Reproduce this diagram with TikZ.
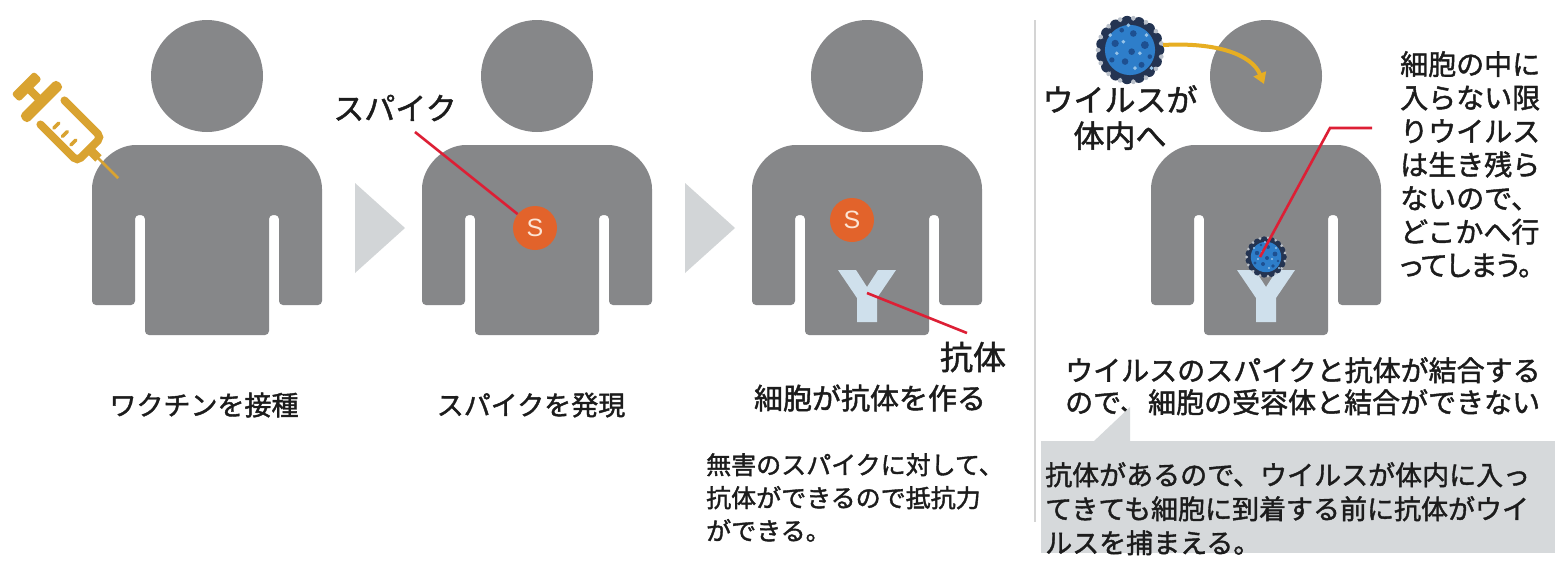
\documentclass[tikz,border=0pt]{standalone}
\usepackage{fontspec}
\newfontfamily\jp[RawFeature={embolden=1.5}]{Noto Sans CJK JP}
\newfontfamily\jpp[RawFeature={embolden=1.5;+palt}]{Noto Sans CJK JP}
\newfontfamily\lsans{Liberation Sans}
\usetikzlibrary{arrows.meta,calc}

\definecolor{figgray}{RGB}{134,135,137}
\definecolor{stepgray}{RGB}{210,213,215}
\definecolor{syr}{RGB}{217,163,49}
\definecolor{sorange}{RGB}{226,99,43}
\definecolor{speach}{RGB}{252,228,212}
\definecolor{ablue}{RGB}{207,224,236}
\definecolor{leader}{RGB}{221,31,53}
\definecolor{ink}{RGB}{28,28,28}
\definecolor{boxgray}{RGB}{214,217,219}
\definecolor{sepgray}{RGB}{212,212,212}
\definecolor{arrowgold}{RGB}{231,174,34}
\definecolor{vblue}{RGB}{46,126,202}
\definecolor{vmid}{RGB}{30,80,145}
\definecolor{vdark}{RGB}{36,52,82}
\definecolor{vlight}{RGB}{150,195,232}
\definecolor{vspeck}{RGB}{185,192,202}

\newcommand\jpsz[2]{\fontsize{#1}{#2}\selectfont}

% silhouette: head and body centred on x = #1
\newcommand\person[1]{%
  \fill[figgray] (#1,76) circle (56);
  \fill[figgray, rounded corners=4pt]
    (#1-62,335) -- (#1-62,215) -- (#1-72,215) -- (#1-72,305) -- (#1-115,305)
    -- (#1-115,193) .. controls (#1-115,166.5) and (#1-93.5,145) .. (#1-67,145)
    -- (#1+67,145) .. controls (#1+93.5,145) and (#1+115,166.5) .. (#1+115,193)
    -- (#1+115,305) -- (#1+72,305) -- (#1+72,215) -- (#1+62,215) -- (#1+62,335) -- cycle;
}

% Y-shaped antibody, centred on x = #1, top edge at y = #2
\newcommand\antibody[2]{%
  \fill[ablue] (#1-29,#2) -- (#1-11,#2) -- (#1,#2+17) -- (#1+11,#2) -- (#1+29,#2)
    -- (#1+10,#2+28) -- (#1+10,#2+52) -- (#1-10,#2+52) -- (#1-10,#2+28) -- cycle;
}

% spiky virus particle: centre (#1,#2), radius #3
\newcommand\virus[3]{%
  \begin{scope}[shift={(#1,#2)}, scale=#3]
    \foreach \a in {0,24,...,336} \fill[vdark] (\a:0.86) circle (0.18);
    \foreach \a in {12,36,...,348} \fill[vspeck] (\a:0.97) circle (0.07);
    \fill[vdark] (0,0) circle (0.88);
    \fill[vblue] (0,0) circle (0.76);
    \foreach \x/\y/\r in {-0.45/-0.2/0.11, 0.1/-0.5/0.1, 0.45/-0.15/0.12, -0.15/0.35/0.1,
                          0.35/0.45/0.09, -0.55/0.3/0.08, 0.05/0.05/0.1, 0.6/0.2/0.07,
                          -0.25/-0.6/0.07}
      \fill[vmid] (\x,\y) circle (\r);
    \foreach \x/\y in {-0.2/-0.25, 0.3/0.1, -0.4/0.1, 0.15/0.55, 0.5/-0.45, -0.05/-0.75,
                       -0.6/-0.45, 0.65/0.55}
      \fill[vlight] (\x,\y) circle (0.06);
  \end{scope}
}

\begin{document}
\begin{tikzpicture}[x=1pt,y=-1pt,
  txt/.style={inner sep=0pt, text=ink},
  leaderline/.style={draw=leader, line width=2.6pt},
  sbadge/.style={circle, fill=sorange, minimum size=44pt, inner sep=0pt,
                 text=speach, font=\lsans\jpsz{25}{25}},
  chevron/.style={fill=stepgray},
]
\useasboundingbox (0,0) rectangle (1555,563);
\fill[white] (0,0) rectangle (1555,563);

% four silhouettes
\person{207}
\person{537}
\person{867}
\person{1266}

% step chevrons
\fill[chevron] (355,183) -- (405,228) -- (355,273) -- cycle;
\fill[chevron] (685,183) -- (735,228) -- (685,273) -- cycle;

% syringe
\begin{scope}[shift={(27,87)}, rotate=-45]
  \fill[syr, rounded corners=3pt] (-6,-16) rectangle (5,16);
  \fill[syr] (4,-4) rectangle (18,4);
  \fill[syr, rounded corners=4pt] (15,-26) rectangle (26,26);
  \draw[syr, line width=8pt, rounded corners=5pt, line cap=round]
    (36,-17) -- (88,-17) -- (88,17) -- (36,17);
  \foreach \u in {48,60,72} \draw[syr, line width=3.5pt, line cap=round] (\u,3) -- (\u,10);
  \fill[syr] (88,-4.5) rectangle (101,4.5);
  \draw[syr, line width=2.8pt] (100,0) -- (129,0);
\end{scope}

% panel 2: spike
\node[sbadge] (s2) at (535,228) {S};
\node[txt, font=\jp\jpsz{31}{31}] (spk) at (395,108) {スパイク};
\coordinate (spkfoot) at (415,132);
\draw[leaderline] (spkfoot) -- (s2);

% panel 3: spike and antibody
\node[sbadge] (s3) at (852,220) {S};
\antibody{867}{270}
\coordinate (ab3) at (867,293);
\node[txt, font=\jp\jpsz{33}{33}] (kotai) at (973,357) {抗体};
\coordinate (kotaifoot) at (967,333);
\draw[leaderline] (ab3) -- (kotaifoot);

% captions
\node[txt, font=\jp\jpsz{27}{27}] (cap1) at (204,405) {ワクチンを接種};
\node[txt, font=\jp\jpsz{27}{27}] (cap2) at (531,405) {スパイクを発現};
\node[txt, font=\jp\jpsz{29}{29}] (cap3) at (870,398) {細胞が抗体を作る};
\node[txt, font=\jp\jpsz{25}{33}, anchor=north west, align=left] (note3) at (706,453)
  {無害のスパイクに対して、\\抗体ができるので抵抗力\\ができる。};

% divider
\draw[sepgray, line width=1.6pt] (1035,20) -- (1035,522);

% panel 4: virus entering
\virus{1130}{50}{33}
\coordinate (vstart) at (1163,45);
\coordinate (vend) at (1264,84);
\draw[arrowgold, line width=4pt, -{Triangle[length=11pt,width=13pt]}]
  (vstart) .. controls (1218,42) and (1252,55) .. (vend);
\node[txt, font=\jp\jpsz{31}{36}, anchor=north, align=center] (vlab) at (1120,85)
  {ウイルスが\\体内へ};

\antibody{1266}{270}
\virus{1266}{257}{20}
\coordinate (v4) at (1260,257);
\coordinate (bend) at (1330,128);
\coordinate (rfoot) at (1372,128);
\draw[leaderline] (v4) -- (bend) -- (rfoot);

\node[txt, font=\jp\jpsz{28}{33.5}, anchor=north west, align=left] (rnote) at (1400,51)
  {細胞の中に\\入らない限\\りウイルス\\は生き残ら\\ないので、\\どこかへ行\\{\jpp ってしまう。}};

\node[txt, font=\jp\jpsz{28}{32}, anchor=north west, align=left] (bind) at (1065,357)
  {ウイルスのスパイクと抗体が結合する\\ので、細胞の受容体と結合ができない};

% callout box
\fill[boxgray] (1041,441) rectangle (1555,553);
\fill[boxgray] (1093,442) -- (1130,407) -- (1130,442) -- cycle;
\node[txt, font=\jp\jpsz{27}{34}, anchor=north west, align=left] (boxtxt) at (1045,462)
  {抗体があるので、ウイルスが体内に入っ\\てきても細胞に到着する前に抗体がウイ\\ルスを捕まえる。};
\end{tikzpicture}
\end{document}
